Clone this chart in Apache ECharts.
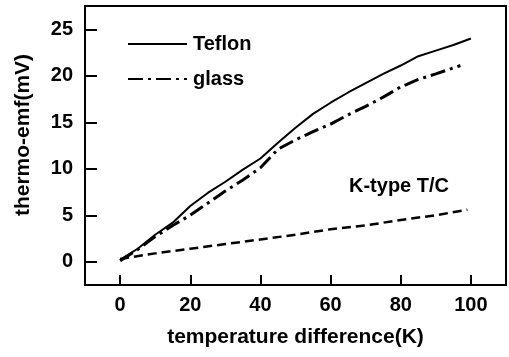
<!DOCTYPE html>
<html><head><meta charset="utf-8">
<script src="https://cdn.jsdelivr.net/npm/echarts@6/dist/echarts.min.js"></script>
<style>html,body{margin:0;padding:0;background:#fff}#c{width:509px;height:357px}</style>
</head><body><div id="c"></div>
<script>
const xTicks = [0, 20, 40, 60, 80, 100];
const yTicks = [0, 5, 10, 15, 20, 25];
const teflonX = [0,5,10,15,20,25,30,35,40,45,50,55,60,65,70,75,80,85,90,95,100];
const teflonY = [0.2,1.4,2.9,4.2,6.0,7.4,8.6,9.9,11.1,12.8,14.4,15.9,17.1,18.2,19.2,20.2,21.1,22.1,22.7,23.3,24.0];
const glassX = [0,5,10,15,20,25,30,35,40,45,50,55,60,65,70,75,80,85,90,97];
const glassY = [0.1,1.3,2.7,3.9,5.0,6.3,7.6,8.8,10.1,12.1,13.1,14.0,14.8,15.8,16.7,17.7,18.8,19.6,20.2,21.1];
const ktypeX = [0,10,20,30,40,50,60,70,80,90,99];
const ktypeY = [0.3,0.9,1.4,1.9,2.4,2.9,3.5,3.9,4.5,5.0,5.6];
const seriesNames = ['Teflon', 'glass', 'K-type T/C'];
const yTitle = 'thermo-emf(mV)';
const xTitle = 'temperature difference(K)';

const zip = (a, b) => a.map((v, i) => [v, b[i]]);
const FONT = '"Liberation Sans", Arial, sans-serif';
const chart = echarts.init(document.getElementById('c'), null, {renderer: 'canvas'});
chart.setOption({
  animation: false,
  backgroundColor: '#fff',
  grid: {left: 85, right: 3, top: 6, bottom: 72, show: true, borderColor: '#000', borderWidth: 2},
  legend: {
    data: [seriesNames[0], seriesNames[1]],
    orient: 'vertical', left: 127, top: 34, padding: 0, itemWidth: 59, itemHeight: 14, itemGap: 15,
    itemStyle: {opacity: 0},
    textStyle: {fontFamily: FONT, fontSize: 20, fontWeight: 'bold', color: '#000', padding: [0,0,0,1]}
  },
  xAxis: {
    type: 'value', min: -10, max: 110, interval: 10,
    name: xTitle, nameLocation: 'middle', nameGap: 42,
    nameTextStyle: {fontFamily: FONT, fontSize: 21, fontWeight: 'bold', color: '#000'},
    axisLine: {show: true, onZero: false, lineStyle: {color: '#000', width: 2}},
    axisTick: {show: true, inside: true, length: 10, lineStyle: {color: '#000', width: 2},
      customValues: xTicks},
    axisLabel: {fontFamily: FONT, fontSize: 20, fontWeight: 'bold', color: '#000', margin: 10, customValues: xTicks},
    splitLine: {show: false}
  },
  yAxis: {
    type: 'value', min: -2.5, max: 27.5, interval: 2.5,
    axisLine: {show: true, onZero: false, lineStyle: {color: '#000', width: 2}},
    axisTick: {show: true, inside: true, length: 12, lineStyle: {color: '#000', width: 2},
      customValues: yTicks},
    axisLabel: {fontFamily: FONT, fontSize: 20, fontWeight: 'bold', color: '#000', margin: 12, customValues: yTicks},
    splitLine: {show: false}
  },
  graphic: [{
    type: 'text', left: 349, top: 176,
    style: {text: seriesNames[2], font: 'bold 20px ' + FONT, fill: '#000'}
  }, {
    type: 'text', x: 23, y: 135, rotation: Math.PI / 2,
    style: {text: yTitle, font: 'bold 21px ' + FONT, fill: '#000', align: 'center', verticalAlign: 'middle'}
  }],
  series: [
    {name: seriesNames[0], type: 'line', data: zip(teflonX, teflonY), showSymbol: false, symbol: 'none',
      lineStyle: {color: '#000', width: 2}, itemStyle: {color: '#000'}},
    {name: seriesNames[1], type: 'line', data: zip(glassX, glassY), showSymbol: false, symbol: 'none',
      lineStyle: {color: '#000', width: 3, type: [15, 5, 3, 5]}, itemStyle: {color: '#000'}},
    {name: seriesNames[2], type: 'line', data: zip(ktypeX, ktypeY), showSymbol: false, symbol: 'none',
      lineStyle: {color: '#000', width: 2.5, type: [9, 5]}, itemStyle: {color: '#000'}}
  ]
});
</script></body></html>
